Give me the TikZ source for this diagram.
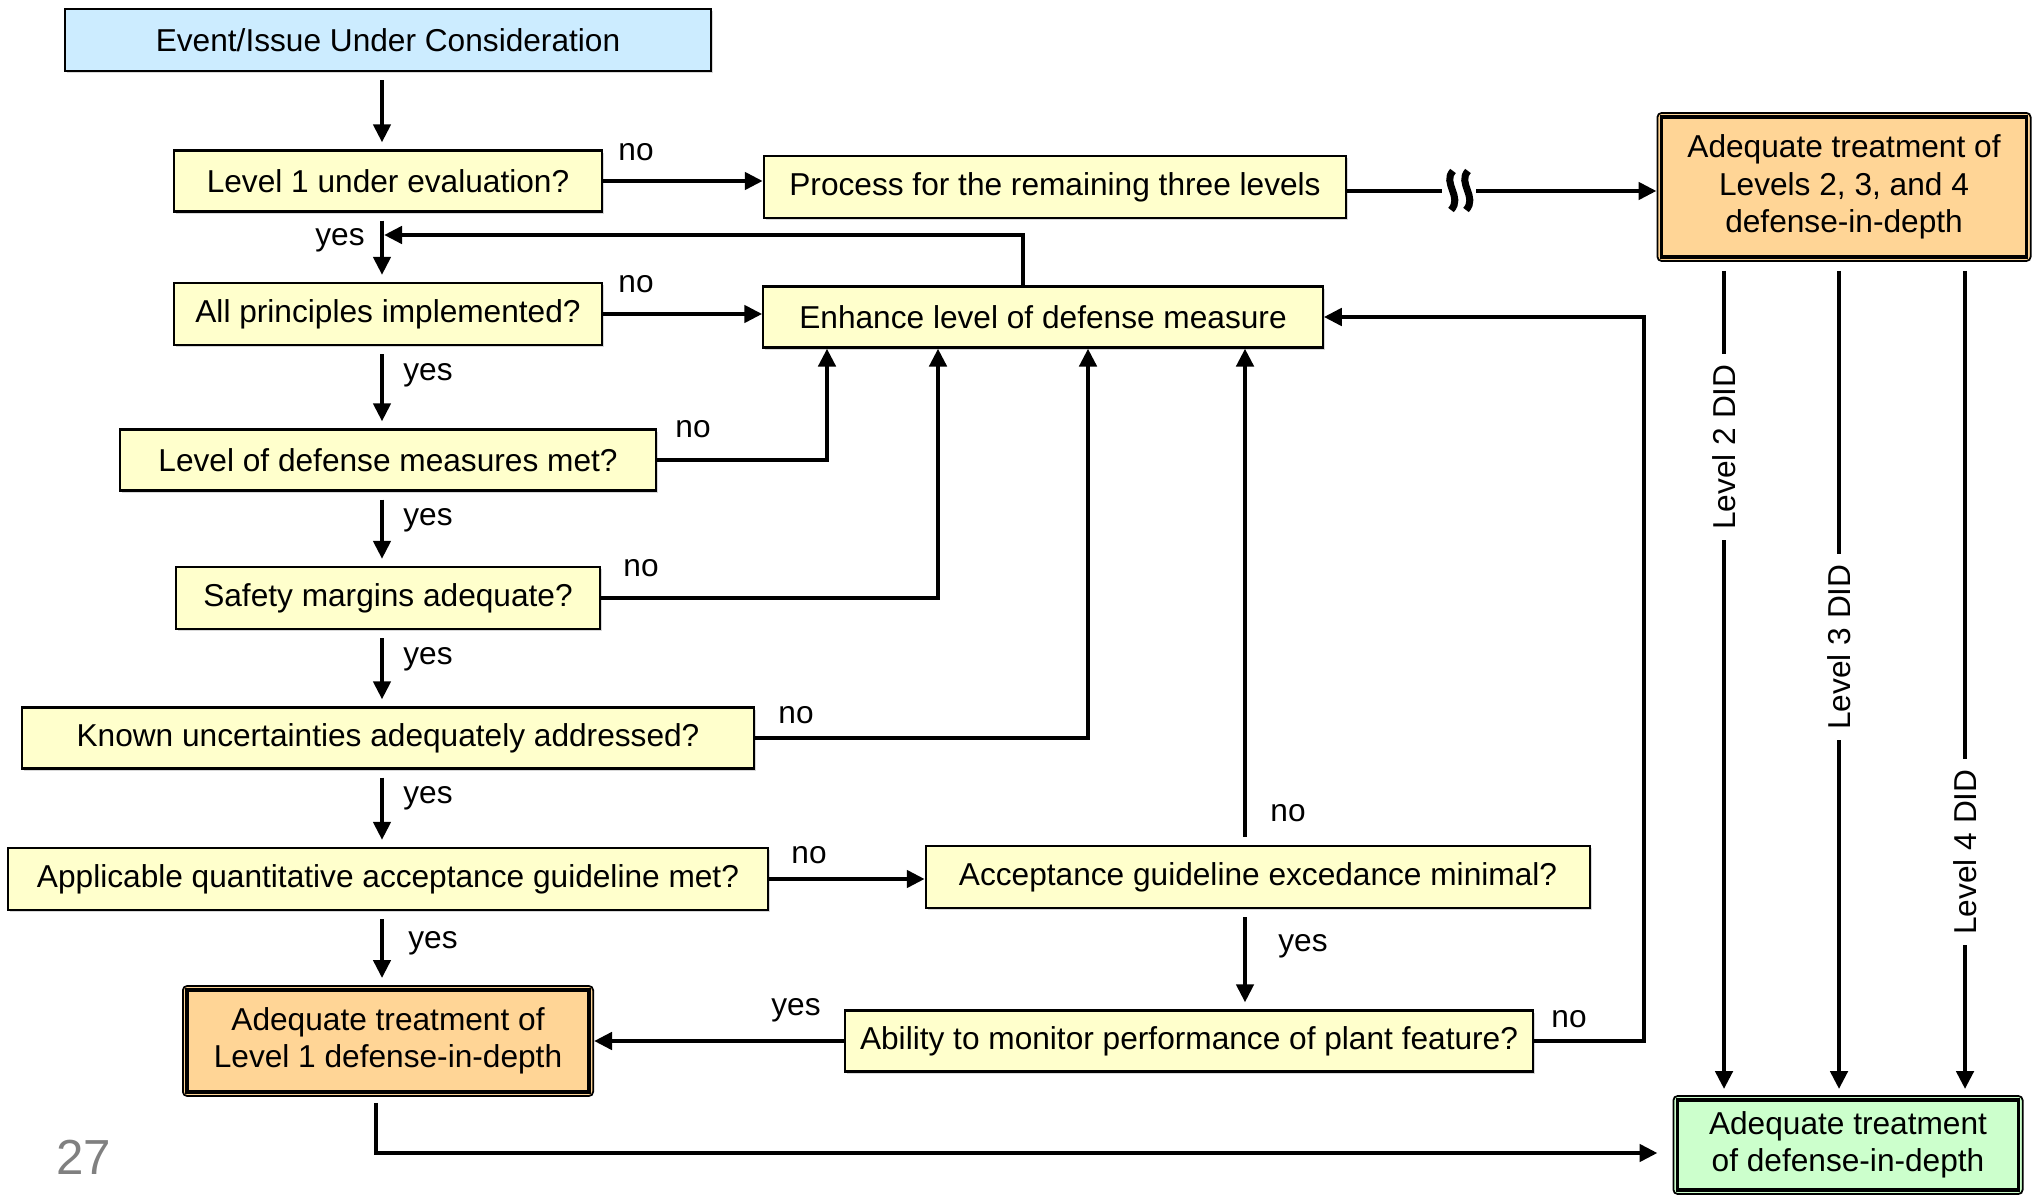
\documentclass[tikz,border=0pt]{standalone}
\usepackage{fontspec}
\setmainfont{Liberation Sans}
\usetikzlibrary{arrows.meta,shadows}
\definecolor{boxyellow}{RGB}{255,255,204}
\definecolor{boxblue}{RGB}{204,236,255}
\definecolor{boxorange}{RGB}{255,213,150}
\definecolor{boxgreen}{RGB}{204,255,204}
\definecolor{pagenum}{RGB}{128,128,128}
\begin{document}
\begin{tikzpicture}[x=0.01cm,y=-0.01cm,
  font=\fontsize{9}{10.6}\selectfont,
  box/.style={draw=black, line width=0.6pt, fill=boxyellow, inner sep=0pt, align=center,
    drop shadow={shadow xshift=0.6pt, shadow yshift=-0.6pt, fill=gray!60}},
  dblbox/.style={draw=black, line width=0.5pt, rounded corners=1.2pt, inner sep=0pt, align=center},
  arr/.style={line width=1.4pt, -{Triangle[length=0.18cm,width=0.17cm]}},
  varr/.style={arr, line width=1.2pt, shorten <=0.08cm, shorten >=0.07cm},
  lab/.style={inner sep=0pt},
  didlab/.style={rotate=90, fill=white, inner sep=3pt}]
\useasboundingbox (0,0) rectangle (2034,1198);

% helper coordinates
\coordinate (col) at (382,0);
\coordinate (fb) at (384,235);
\coordinate (u1) at (827,0);
\coordinate (u2) at (938,0);
\coordinate (u3) at (1088,0);
\coordinate (u4) at (1245,0);
\coordinate (r1) at (1644,0);
\coordinate (bl) at (376,1153);
\coordinate (d2) at (1724,0);
\coordinate (d3) at (1839,0);
\coordinate (d4) at (1965,0);
\coordinate (w1) at (1442,191);
\coordinate (w2) at (1476,191);

% boxes
\node[box, fill=boxblue, minimum width=6.46cm, minimum height=0.62cm] (ev) at (388,40) {Event/Issue Under Consideration};
\node[box, minimum width=4.28cm, minimum height=0.61cm] (q1) at (388,181) {Level 1 under evaluation?};
\node[box, minimum width=5.82cm, minimum height=0.62cm] (prc) at (1055,187) {Process for the remaining three levels};
\node[dblbox, fill=boxorange, minimum width=3.73cm, minimum height=1.48cm] (l234) at (1844,187) {Adequate treatment of\\Levels 2, 3, and 4\\defense-in-depth};
\node[box, minimum width=4.28cm, minimum height=0.62cm] (q2) at (388,314) {All principles implemented?};
\node[box, minimum width=5.59cm, minimum height=0.61cm] (enh) at (1043,317) {Enhance level of defense measure};
\node[box, minimum width=5.35cm, minimum height=0.61cm] (q3) at (388,460) {Level of defense measures met?};
\node[box, minimum width=4.23cm, minimum height=0.62cm] (q4) at (388,598) {Safety margins adequate?};
\node[box, minimum width=7.32cm, minimum height=0.61cm] (q5) at (388,738) {Known uncertainties adequately addressed?};
\node[box, minimum width=7.60cm, minimum height=0.62cm] (q6) at (388,879) {Applicable quantitative acceptance guideline met?};
\node[box, minimum width=6.64cm, minimum height=0.62cm] (acm) at (1258,877) {Acceptance guideline excedance minimal?};
\node[dblbox, fill=boxorange, minimum width=4.10cm, minimum height=1.10cm] (ad1) at (388,1041) {Adequate treatment of\\Level 1 defense-in-depth};
\node[box, minimum width=6.87cm, minimum height=0.61cm] (abl) at (1189,1041) {Ability to monitor performance of plant feature?};
\node[dblbox, fill=boxgreen, minimum width=3.49cm, minimum height=0.98cm] (grn) at (1848,1145) {Adequate treatment\\of defense-in-depth};

% inner borders of the double boxes
\foreach \n in {l234,ad1,grn}
  \draw[line width=1pt] ([shift={(5,5)}]\n.north west) rectangle ([shift={(-5,-5)}]\n.south east);

% page number
\node[text=pagenum, font=\fontsize{14}{16}\selectfont] (pg) at (84,1157) {27};

% main vertical flow
\draw[varr] (ev.south -| col) -- (q1.north -| col);
\draw[varr] (q1.south -| col) -- (q2.north -| col);
\draw[varr] (q2.south -| col) -- (q3.north -| col);
\draw[varr] (q3.south -| col) -- (q4.north -| col);
\draw[varr] (q4.south -| col) -- (q5.north -| col);
\draw[varr] (q5.south -| col) -- (q6.north -| col);
\draw[varr] (q6.south -| col) -- (ad1.north -| col);

% no branches
\draw[arr] (q1.east) -- (q1.east -| prc.west);
\draw[arr] (q2.east) -- (q2.east -| enh.west);
\draw[arr] (q3.east) -| (enh.south -| u1);
\draw[arr] (q4.east) -| (enh.south -| u2);
\draw[arr] (q5.east) -| (enh.south -| u3);
\draw[arr] (q6.east) -- (q6.east -| acm.west);
\draw[arr, shorten <=0.08cm] (acm.north -| u4) -- (enh.south -| u4);
\draw[varr] (acm.south -| u4) -- (abl.north -| u4);
\draw[arr] (abl.west) -- (abl.west -| ad1.east);
\draw[arr] (abl.east) -| (r1 |- enh.east) -- (enh.east);

% feedback to level 1 flow
\draw[arr] ([xshift=-0.2cm]enh.north) |- (fb);

% process to levels 2-4 with break symbol
\draw[line width=1.4pt] (prc.east |- w1) -- (w1);
\draw[arr] (w2) -- (l234.west |- w2);
\draw[line width=2pt] (1453,171) .. controls (1442,183) and (1463,197) .. (1451,210);
\draw[line width=2pt] (1468,171) .. controls (1457,183) and (1478,197) .. (1466,210);

% bottom line to final box
\draw[arr, shorten <=0.06cm, shorten >=0.15cm] (ad1.south -| bl) |- (grn.west |- bl);

% DID arrows
\draw[arr, shorten <=0.09cm, shorten >=0.06cm] (l234.south -| d2) -- (grn.north -| d2);
\draw[arr, shorten <=0.09cm, shorten >=0.06cm] (l234.south -| d3) -- (grn.north -| d3);
\draw[arr, shorten <=0.09cm, shorten >=0.06cm] (l234.south -| d4) -- (grn.north -| d4);
\node[didlab] (t2) at (1724,447) {Level 2 DID};
\node[didlab] (t3) at (1839,647) {Level 3 DID};
\node[didlab] (t4) at (1965,852) {Level 4 DID};

% yes / no labels
\node[lab] (n1) at (636,152) {no};
\node[lab] (y1) at (340,240) {yes};
\node[lab] (n2) at (636,284) {no};
\node[lab] (y2) at (428,375) {yes};
\node[lab] (n3) at (693,429) {no};
\node[lab] (y3) at (428,520) {yes};
\node[lab] (n4) at (641,568) {no};
\node[lab] (y4) at (428,659) {yes};
\node[lab] (n5) at (796,715) {no};
\node[lab] (y5) at (428,798) {yes};
\node[lab] (n6) at (809,855) {no};
\node[lab] (y6) at (433,943) {yes};
\node[lab] (n7) at (1288,813) {no};
\node[lab] (y7) at (1303,946) {yes};
\node[lab] (y8) at (796,1010) {yes};
\node[lab] (n8) at (1569,1019) {no};
\end{tikzpicture}
\end{document}
